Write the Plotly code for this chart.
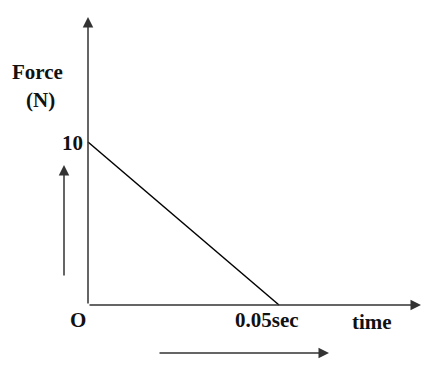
import plotly.graph_objects as go

# Data
time_vals = [0, 0.05]
force_vals = [10, 0]
y_tick_label = "10"
x_tick_label = "0.05sec"
origin_label = "O"
x_title = "time"
y_title_lines = ["Force", "(N)"]

W, H = 429, 365
# pixel mapping: t=0 at px 88, t=0.05 at px 279; F=0 at py 305, F=10 at py 142
sx = 0.05 / (279 - 88)
sy = 10 / (305 - 142)
x_range = [-88 * sx, (W - 88) * sx]
y_range = [-(H - 305) * sy, 305 * sy]

def X(px):
    return (px - 88) * sx

def Y(py):
    return (305 - py) * sy

fig = go.Figure()
fig.add_trace(go.Scatter(x=time_vals, y=force_vals, mode="lines",
                         line=dict(color="black", width=1.5), hoverinfo="skip"))

font = dict(family="Liberation Serif, Times New Roman, serif", size=21, color="#111")
ann = []
def arrow(x0, y0, x1, y1):
    ann.append(dict(x=x1, y=y1, ax=x0, ay=y0, xref="x", yref="y", axref="x", ayref="y",
                    showarrow=True, arrowhead=2, arrowsize=1.4, arrowwidth=1.5,
                    arrowcolor="#333", text=""))
arrow(0, 0, X(421), 0)
arrow(0, 0, 0, Y(17))
arrow(X(64), Y(277), X(64), Y(165))
arrow(X(158), Y(353), X(329), Y(353))

def txt(t, px, py):
    ann.append(dict(text=f"<b>{t}</b>", x=X(px), y=Y(py), xref="x", yref="y",
                    showarrow=False, font=font, xanchor="center", yanchor="middle"))
txt(y_tick_label, 72, 143)
txt(origin_label, 78, 320)
txt(x_tick_label, 267, 320)
txt(x_title, 372, 322)
txt(y_title_lines[0], 37, 72)
txt(y_title_lines[1], 40, 100)

fig.update_layout(width=W, height=H, margin=dict(l=0, r=0, t=0, b=0),
                  paper_bgcolor="white", plot_bgcolor="white", showlegend=False,
                  annotations=ann,
                  xaxis=dict(range=x_range, visible=False, fixedrange=True),
                  yaxis=dict(range=y_range, visible=False, fixedrange=True))
fig.write_html("out.html")
